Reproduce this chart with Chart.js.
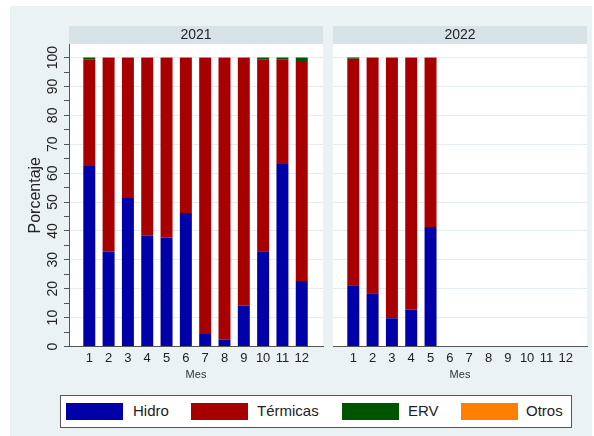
<!DOCTYPE html>
<html>
<head>
<meta charset="utf-8">
<script src="https://cdn.jsdelivr.net/npm/chart.js@4"></script>
<style>
  html, body { margin: 0; padding: 0; background: #ffffff; }
  #wrap { position: relative; width: 594px; height: 436px; overflow: hidden; }
  #bg { position: absolute; left: 10px; top: 6px; width: 582px; height: 430px; background: #eaf2f3; }
  #c1 { position: absolute; left: 10px; top: 6px; }
  #c2 { position: absolute; left: 328px; top: 6px; }
  #legend { position: absolute; left: 60px; top: 395px; width: 510px; height: 31px; background: #fff; border: 1px solid #555; font-family: "Liberation Sans", Arial, sans-serif; }
  .sw { position: absolute; top: 7px; width: 57px; height: 17px; }
  .lb { position: absolute; top: 6px; font-size: 15px; line-height: 18px; color: #222; }
</style>
</head>
<body>
<div id="wrap">
  <div id="bg"></div>
  <canvas id="c1" width="318" height="384"></canvas>
  <canvas id="c2" width="262" height="384"></canvas>
  <div id="legend"></div>
</div>
<script>
// ---- Data ----
const months = [1,2,3,4,5,6,7,8,9,10,11,12];
const panelTitles = ['2021', '2022'];
const seriesNames = ['Hidro', 'Térmicas', 'ERV', 'Otros'];
const seriesColors = ['#0000a8', '#a80000', '#005500', '#ff7f00'];

const hidro2021    = [62.5, 32.8, 51.4, 38.3, 37.7, 46.2, 4.3, 2.3, 14.1, 33.0, 63.2, 22.7];
const termicas2021 = [36.9, 67.1, 48.5, 61.6, 62.2, 53.7, 95.6, 97.6, 85.8, 66.4, 36.2, 76.1];
const erv2021      = [0.6, 0.1, 0.1, 0.1, 0.1, 0.1, 0.1, 0.1, 0.1, 0.6, 0.6, 1.2];
const otros2021    = [0, 0, 0, 0, 0, 0, 0, 0, 0, 0, 0, 0];

const hidro2022    = [21.2, 18.4, 9.8, 12.8, 41.4, null, null, null, null, null, null, null];
const termicas2022 = [78.4, 81.5, 90.1, 87.1, 58.5, null, null, null, null, null, null, null];
const erv2022      = [0.4, 0.1, 0.1, 0.1, 0.1, null, null, null, null, null, null, null];
const otros2022    = [0, 0, 0, 0, 0, null, null, null, null, null, null, null];

const yTicks = [0,5,10,15,20,25,30,35,40,45,50,55,60,65,70,75,80,85,90,95,100];

// ---- Helpers ----
const FONT = '"Liberation Sans", Arial, sans-serif';
Chart.defaults.font.family = FONT;
Chart.defaults.color = '#222';

function makeDatasets(series) {
  return series.map((vals, i) => ({
    label: seriesNames[i],
    data: months.map((m, k) => ({ x: m, y: vals[k] })),
    backgroundColor: seriesColors[i],
    borderWidth: 0,
    barPercentage: 0.62,
    categoryPercentage: 1.0
  }));
}

const headerPlugin = {
  id: 'panelHeader',
  beforeDraw(chart) {
    const ctx = chart.ctx, a = chart.chartArea;
    ctx.save();
    ctx.fillStyle = '#d8e3e8';
    ctx.fillRect(a.left, 20, a.right - a.left, a.top - 20);
    ctx.fillStyle = '#ffffff';
    ctx.fillRect(a.left, a.top, a.right - a.left, a.bottom - a.top);
    ctx.restore();
  }
};

// rotated y tick labels (reading upward), positioned from the y scale
const yLabelPlugin = {
  id: 'yRotLabels',
  afterDraw(chart) {
    const s = chart.scales.y;
    if (!chart.options.plugins.yRotLabels || !chart.options.plugins.yRotLabels.show) return;
    const ctx = chart.ctx;
    ctx.save();
    ctx.fillStyle = '#222';
    ctx.font = '14px ' + FONT;
    ctx.textAlign = 'center';
    ctx.textBaseline = 'middle';
    s.ticks.forEach(t => {
      if (t.value % 10 !== 0) return;
      const y = s.getPixelForValue(t.value);
      ctx.save();
      ctx.translate(s.right - 16, y);
      ctx.rotate(-Math.PI / 2);
      ctx.fillText(String(t.value), 0, 0);
      ctx.restore();
    });
    ctx.restore();
  }
};

function buildChart(canvasId, title, series, showY) {
  return new Chart(document.getElementById(canvasId), {
    type: 'bar',
    data: { datasets: makeDatasets(series) },
    plugins: [headerPlugin, yLabelPlugin],
    options: {
      responsive: false,
      animation: false,
      layout: { padding: { left: showY ? 0 : 5, right: showY ? 5 : 3, top: 0, bottom: 0 } },
      plugins: {
        legend: { display: false },
        tooltip: { enabled: false },
        yRotLabels: { show: showY },
        title: {
          display: true, text: title, fullSize: false,
          color: '#222', font: { size: 14, weight: 'normal', lineHeight: 1.143 },
          padding: { top: 21, bottom: 1 }
        }
      },
      scales: {
        x: {
          type: 'linear', stacked: true, min: -0.05, max: 13.1, offset: false,
          afterBuildTicks: s => { s.ticks = months.map(v => ({ value: v })); },
          afterFit: s => { s.height = 43.5; },
          grid: { display: false, drawTicks: false },
          border: { display: true, color: '#555', width: 1 },
          ticks: { font: { size: 13 }, color: '#222', padding: 4, callback: v => String(v) },
          title: { display: true, text: 'Mes', color: '#333', font: { size: 11 }, padding: { top: 0, bottom: 8 } }
        },
        y: {
          stacked: true, min: 0, max: 104.7,
          afterBuildTicks: s => { s.ticks = yTicks.map(v => ({ value: v })); },
          afterFit: s => { s.width = showY ? 59 : 0; },
          grid: {
            color: c => (c.tick && c.tick.value % 10 === 0 && c.tick.value !== 0) ? '#e4edf0' : 'rgba(0,0,0,0)',
            tickColor: '#555',
            tickLength: 5,
            drawTicks: showY
          },
          border: { display: showY, color: '#555', width: 1 },
          ticks: { display: false },
          title: { display: showY, text: 'Porcentaje', color: '#222', font: { size: 16 }, padding: { top: 16, bottom: 0 } }
        }
      }
    }
  });
}

buildChart('c1', panelTitles[0], [hidro2021, termicas2021, erv2021, otros2021], true);
buildChart('c2', panelTitles[1], [hidro2022, termicas2022, erv2022, otros2022], false);

// ---- Legend (HTML) ----
const legend = document.getElementById('legend');
const swX = [5, 130, 281, 400];
const lbX = [72, 196, 347, 465];
seriesNames.forEach((n, i) => {
  const s = document.createElement('div');
  s.className = 'sw'; s.style.left = swX[i] + 'px'; s.style.background = seriesColors[i];
  legend.appendChild(s);
  const l = document.createElement('div');
  l.className = 'lb'; l.style.left = lbX[i] + 'px'; l.textContent = n;
  legend.appendChild(l);
});
</script>
</body>
</html>
